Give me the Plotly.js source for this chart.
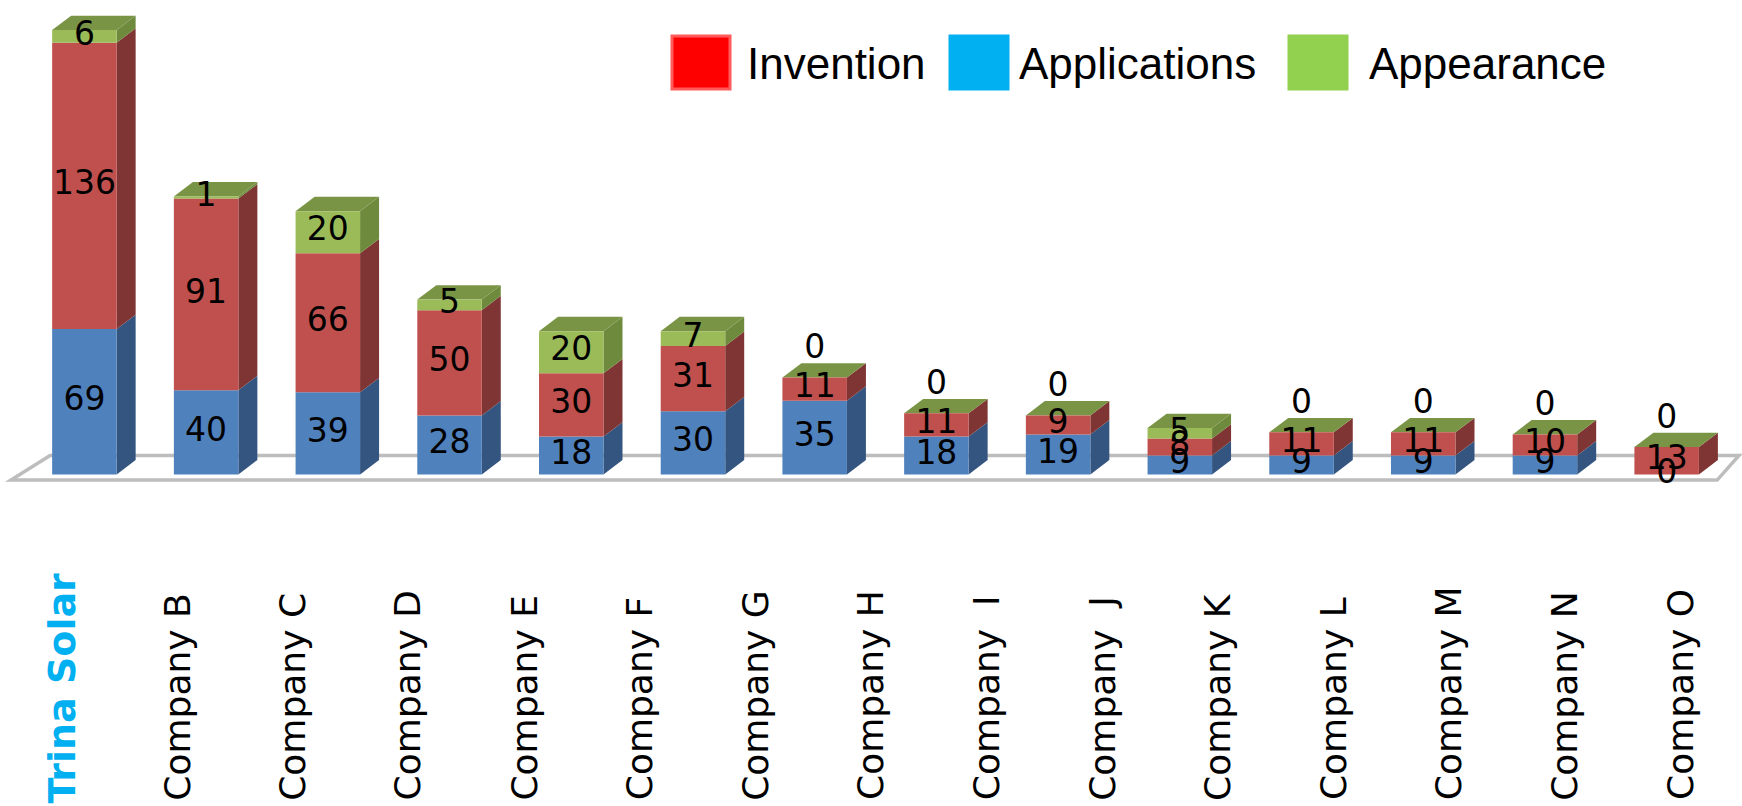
<!DOCTYPE html>
<html><head><meta charset="utf-8">
<script src="https://cdn.plot.ly/plotly-3.0.1.min.js"></script>
<style>html,body{margin:0;padding:0;background:#fff;overflow:hidden;}</style>
</head><body><div id="chart" style="width:1742px;height:806px;"></div>
<script>
// ---- data ----
const companies = ['Trina Solar','Company B','Company C','Company D','Company E','Company F','Company G','Company H','Company  I','Company  J','Company K','Company L','Company M','Company N','Company O'];
const applications = [69, 40, 39, 28, 18, 30, 35, 18, 19, 9, 9, 9, 9, 0];
const invention    = [136, 91, 66, 50, 30, 31, 11, 11, 9, 8, 11, 11, 10, 13];
const appearance   = [6, 1, 20, 5, 20, 7, 0, 0, 0, 5, 0, 0, 0, 0];
const legendNames  = ['Invention', 'Applications', 'Appearance'];

// ---- styling ----
const FRONT = {app:'#4F81BD', inv:'#C0504D', apr:'#9BBB59'};
const SIDE  = {app:'#34557F', inv:'#7E3533', apr:'#6E8B3D'};
const TOP   = '#7A9446';
const BARW = 0.53, DX = 0.156, DY = 6.8;

const xs = applications.map((_, i) => i);
const series = [
  {key:'app', vals:applications, name:legendNames[1]},
  {key:'inv', vals:invention,    name:legendNames[0]},
  {key:'apr', vals:appearance,   name:legendNames[2]}
];

const traces = [];
const shapes = [];
// floor
shapes.push({type:'path', xref:'x', yref:'y', layer:'below',
  path:'M -0.603,-2.7 L 13.415,-2.7 L 13.595,9 L -0.282,9 Z',
  fillcolor:'#ffffff', line:{color:'#BDBDBD', width:3.5}});

const bases = xs.map(() => 0);
series.forEach(s => {
  traces.push({type:'bar', x:xs, y:s.vals, base:bases.slice(), width:BARW, name:s.name,
    marker:{color:FRONT[s.key], line:{width:0}}, showlegend:false, hoverinfo:'skip'});
  // side faces
  xs.forEach(i => {
    const v = s.vals[i];
    if (v > 0) {
      const y0 = bases[i], y1 = bases[i] + v, xr = i + BARW/2;
      shapes.push({type:'path', xref:'x', yref:'y', layer:'below', line:{width:0},
        fillcolor:SIDE[s.key],
        path:`M ${xr},${y0} L ${xr+DX},${y0+DY} L ${xr+DX},${y1+DY} L ${xr},${y1} Z`});
    }
  });
  // labels
  const ly = xs.map(i => {
    const v = s.vals[i];
    if (v === 0) return s.key === 'apr' ? bases[i] + 13 : bases[i];
    return bases[i] + v/2;
  });
  traces.push({type:'scatter', mode:'text', x:xs, y:ly, text:s.vals.map(String),
    textposition:'middle center', cliponaxis:false, showlegend:false, hoverinfo:'skip',
    textfont:{family:'DejaVu Sans, Verdana, sans-serif', size:33, color:'#000'}});
  xs.forEach(i => { bases[i] += s.vals[i]; });
});
// top faces
xs.forEach(i => {
  const T = bases[i], xl = i - BARW/2, xr = i + BARW/2;
  shapes.push({type:'path', xref:'x', yref:'y', layer:'below', line:{width:0}, fillcolor:TOP,
    path:`M ${xl},${T} L ${xl+DX},${T+DY} L ${xr+DX},${T+DY} L ${xr},${T} Z`});
});

// dummy trace to establish label axis
traces.push({type:'scatter', x:companies.map((_, i) => i), y:companies.map(() => null),
  xaxis:'x2', yaxis:'y', mode:'markers', showlegend:false, hoverinfo:'skip'});

const annotations = companies.map((c, i) => ({
  xref:'x2', yref:'paper', x:i, y: i === 0 ? -0.612 : -0.605, xanchor:'center', yanchor:'bottom',
  textangle:-90, showarrow:false,
  text: i === 0 ? '<b>' + c + '</b>' : c,
  font: i === 0 ? {family:'DejaVu Sans, sans-serif', size:38, color:'#00B0F0'}
                : {family:'DejaVu Sans, sans-serif', size:36, color:'#000'}
}));

// manual legend
const legendItems = [
  {name:legendNames[0], color:'#FF0000', border:'#FF5B5B', x0:672, x1:730, tx:745},
  {name:legendNames[1], color:'#00B0F0', border:'#00B0F0', x0:950, x1:1008, tx:1017},
  {name:legendNames[2], color:'#92D050', border:'#92D050', x0:1289, x1:1347, tx:1367}
];
const PH = 500, W = 1742;
legendItems.forEach(it => {
  shapes.push({type:'rect', xref:'paper', yref:'paper', x0:it.x0/W, x1:it.x1/W,
    y0:(PH-89)/PH, y1:(PH-36)/PH, fillcolor:it.color, line:{color:it.border, width:3}});
  annotations.push({xref:'paper', yref:'paper', x:it.tx/W, y:(PH-63)/PH, xanchor:'left', yanchor:'middle',
    showarrow:false, text:it.name,
    font:{family:'Liberation Sans, Arial, sans-serif', size:44, color:'#000'}});
});

const layout = {
  width:1742, height:806, margin:{l:0, r:0, t:0, b:306, pad:0},
  paper_bgcolor:'#fff', plot_bgcolor:'rgba(0,0,0,0)',
  barmode:'overlay', showlegend:false,
  xaxis:{range:[-0.6935, 13.619], visible:false, fixedrange:true},
  xaxis2:{range:[-0.5275, 14.536], overlaying:'x', visible:false, fixedrange:true},
  yaxis:{range:[-12.16, 225.26], visible:false, fixedrange:true},
  shapes:shapes, annotations:annotations
};
Plotly.newPlot('chart', traces, layout, {staticPlot:true, displayModeBar:false});
</script></body></html>
